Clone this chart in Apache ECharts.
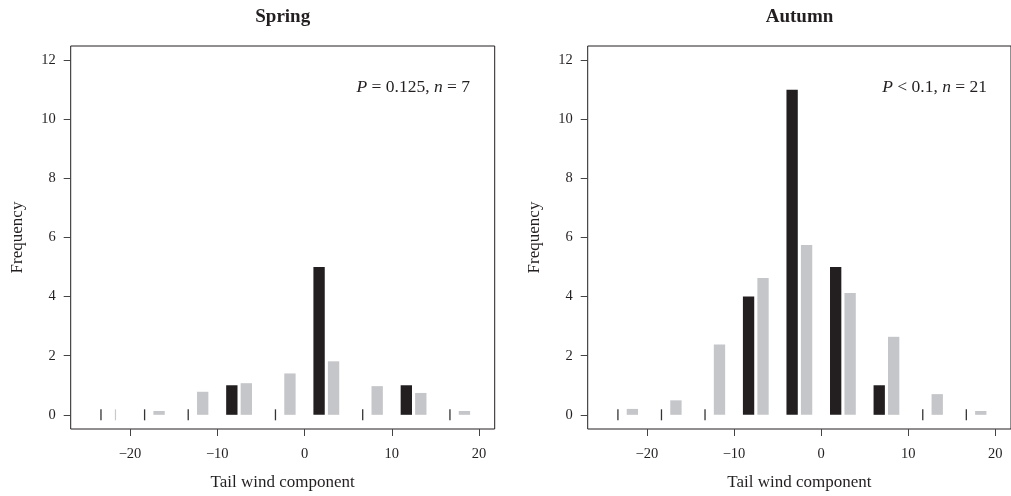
<!DOCTYPE html>
<html>
<head>
<meta charset="utf-8">
<script src="https://cdn.jsdelivr.net/npm/echarts@6/dist/echarts.min.js"></script>
<style>
html,body{margin:0;padding:0;background:#fff;}
#chart{width:1011px;height:496px;}
</style>
</head>
<body>
<div id="chart"></div>
<script>
// ---- data ----
const xTicks = [-20, -10, 0, 10, 20];
const yTicks = [0, 2, 4, 6, 8, 10, 12];
const binCenters = [-22.5, -17.5, -12.5, -7.5, -2.5, 2.5, 7.5, 12.5, 17.5];
const springObserved = [0, 0, 0, 1, 0, 5, 0, 1, 0];
const springExpected = [0, 0.13, 0.78, 1.07, 1.40, 1.81, 0.97, 0.74, 0.13];
const autumnObserved = [0, 0, 0, 4, 11, 5, 1, 0, 0];
const autumnExpected = [0.20, 0.49, 2.38, 4.63, 5.75, 4.12, 2.64, 0.70, 0.13];
const panelTitles = ['Spring', 'Autumn'];
const xAxisTitle = 'Tail wind component';
const yAxisTitle = 'Frequency';

const FONT = '"Liberation Serif", "DejaVu Serif", serif';
const INK = '#231f20';
const BLACK = '#231f20';
const GREY = '#c5c6c9';

function pairs(vals) { return binCenters.map((c, i) => [c, vals[i]]); }

function makeRender(side, color, zeroColor, zeroWidth) {
  return function (params, api) {
    const c = api.value(0), v = api.value(1);
    const x0 = side < 0 ? c - 1.48 : c + 0.18;
    const x1 = side < 0 ? c - 0.18 : c + 1.48;
    if (v === 0) {
      const pm = api.coord([(x0 + x1) / 2, 0]);
      return {
        type: 'line',
        shape: { x1: pm[0], y1: pm[1] - 5.5, x2: pm[0], y2: pm[1] + 5.5 },
        style: { stroke: zeroColor, lineWidth: zeroWidth }
      };
    }
    const p0 = api.coord([x0, 0]);
    const p1 = api.coord([x1, v]);
    return {
      type: 'rect',
      shape: { x: p0[0], y: p1[1], width: p1[0] - p0[0], height: p0[1] - p1[1] },
      style: { fill: color }
    };
  };
}

const fmtX = v => (v < 0 ? '\u2212' + Math.abs(v) : String(v));

function xAxisDef(gi) {
  return {
    type: 'value', gridIndex: gi, min: -26.8, max: 21.8, position: 'bottom',
    axisLine: { show: false, onZero: false }, splitLine: { show: false },
    axisTick: { show: true, inside: false, length: 7, customValues: xTicks, lineStyle: { color: '#444', width: 1 } },
    axisLabel: { customValues: xTicks, formatter: fmtX, margin: 18, color: INK, fontFamily: FONT, fontSize: 14.5 },
    name: xAxisTitle, nameLocation: 'middle', nameGap: 45,
    nameTextStyle: { color: INK, fontFamily: FONT, fontSize: 17 }
  };
}
function yAxisDef(gi) {
  return {
    type: 'value', gridIndex: gi, min: -0.48, max: 12.48, position: 'left',
    axisLine: { show: false, onZero: false }, splitLine: { show: false },
    axisTick: { show: true, inside: false, length: 7, customValues: yTicks, lineStyle: { color: '#444', width: 1 } },
    axisLabel: { customValues: yTicks, margin: 15, color: INK, fontFamily: FONT, fontSize: 14.5 },
    name: yAxisTitle, nameLocation: 'middle', nameGap: 45,
    nameTextStyle: { color: INK, fontFamily: FONT, fontSize: 17 }
  };
}

function annot(x, y, parts) {
  return {
    type: 'text', x: x, y: y,
    style: {
      text: parts, align: 'right', verticalAlign: 'middle',
      fontFamily: FONT, fontSize: 17.5, fill: INK,
      rich: { i: { fontStyle: 'italic', fontFamily: FONT, fontSize: 17.5, fill: INK } }
    }
  };
}

const chart = echarts.init(document.getElementById('chart'), null, { renderer: 'canvas' });
chart.setOption({
  animation: false,
  backgroundColor: '#fff',
  grid: [
    { left: 70.7, top: 46, width: 424, height: 386, show: true, borderColor: INK, borderWidth: 1, backgroundColor: 'transparent' },
    { left: 587.7, top: 46, width: 423.6, height: 386, show: true, borderColor: INK, borderWidth: 1, backgroundColor: 'transparent' }
  ],
  xAxis: [xAxisDef(0), xAxisDef(1)],
  yAxis: [yAxisDef(0), yAxisDef(1)],
  graphic: [
    { type: 'text', x: 282.7, y: 17, style: { text: panelTitles[0], align: 'center', verticalAlign: 'middle', fontFamily: FONT, fontWeight: 'bold', fontSize: 19, fill: INK } },
    { type: 'text', x: 799.5, y: 17, style: { text: panelTitles[1], align: 'center', verticalAlign: 'middle', fontFamily: FONT, fontWeight: 'bold', fontSize: 19, fill: INK } },
    annot(470, 87.5, '{i|P} = 0.125, {i|n} = 7'),
    annot(987, 87, '{i|P} < 0.1, {i|n} = 21')
  ],
  series: [
    { type: 'custom', xAxisIndex: 0, yAxisIndex: 0, renderItem: makeRender(-1, BLACK, '#333', 1.3), data: pairs(springObserved) },
    { type: 'custom', xAxisIndex: 0, yAxisIndex: 0, renderItem: makeRender(1, GREY, '#c8c9cc', 1.2), data: pairs(springExpected) },
    { type: 'custom', xAxisIndex: 1, yAxisIndex: 1, renderItem: makeRender(-1, BLACK, '#333', 1.3), data: pairs(autumnObserved) },
    { type: 'custom', xAxisIndex: 1, yAxisIndex: 1, renderItem: makeRender(1, GREY, '#c8c9cc', 1.2), data: pairs(autumnExpected) }
  ]
});
</script>
</body>
</html>
